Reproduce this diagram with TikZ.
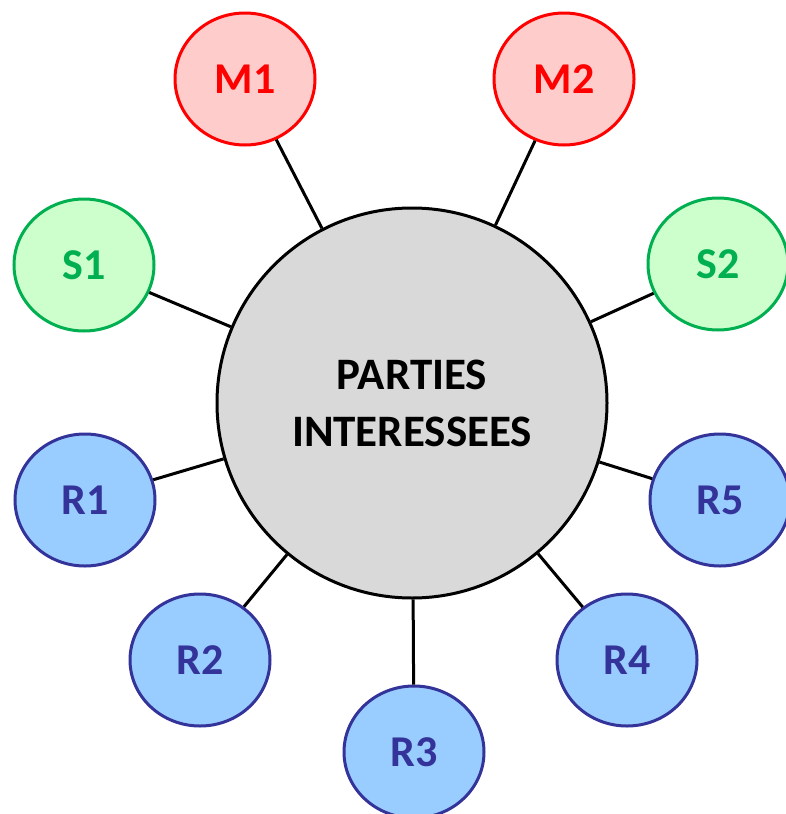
\documentclass[tikz,border=0pt]{standalone}
\usepackage{fontspec}
\setmainfont{Carlito}
\usetikzlibrary{shapes.geometric}
\definecolor{mfill}{HTML}{FFCCCC}
\definecolor{mdraw}{HTML}{FF0000}
\definecolor{sfill}{HTML}{CCFFCC}
\definecolor{sdraw}{HTML}{00B050}
\definecolor{rfill}{HTML}{99CCFF}
\definecolor{rdraw}{HTML}{333399}
\definecolor{cfill}{HTML}{D9D9D9}
\tikzset{
  sat/.style={ellipse, minimum width=140pt, minimum height=132pt, inner sep=0pt,
    line width=3pt, font=\fontsize{44}{52}\selectfont\bfseries},
  mnode/.style={sat, fill=mfill, draw=mdraw, text=mdraw},
  snode/.style={sat, fill=sfill, draw=sdraw, text=sdraw},
  rnode/.style={sat, fill=rfill, draw=rdraw, text=rdraw},
  hub/.style={circle, minimum size=390pt, inner sep=0pt, fill=cfill, draw=black,
    line width=3pt, align=center, font=\fontsize{45}{57}\selectfont\bfseries},
  link/.style={draw=black, line width=3pt}
}
\begin{document}
\begin{tikzpicture}[x=1pt,y=-1pt]
\useasboundingbox (0,0) rectangle (785,814);
\node[hub] (c) at (412,403) {PARTIES\\INTERESSEES};
\node[mnode] (m1) at (245,79) {M1};
\node[mnode] (m2) at (564,79) {M2};
\node[snode] (s1) at (84,265) {S1};
\node[snode] (s2) at (718,264) {S2};
\node[rnode] (r1) at (85,500) {R1};
\node[rnode] (r5) at (720,500) {R5};
\node[rnode] (r2) at (200,660) {R2};
\node[rnode] (r4) at (627,660) {R4};
\node[rnode] (r3) at (414,752) {R3};
\foreach \n in {m1,m2,s1,s2,r1,r2,r3,r4,r5}{
  \draw[link] (c) -- (\n);
}
\end{tikzpicture}
\end{document}
